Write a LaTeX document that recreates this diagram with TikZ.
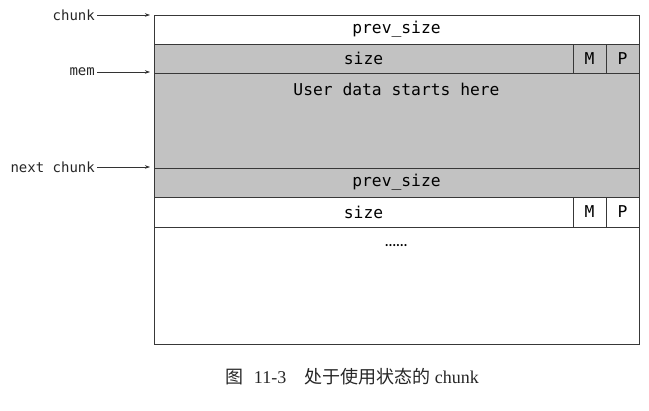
\documentclass[tikz,border=0pt]{standalone}
\usepackage{fontspec}
\setmainfont{Liberation Serif}
\setmonofont{DejaVu Sans Mono}
\newfontfamily\cjk{Noto Sans CJK SC}
\usetikzlibrary{arrows.meta}
\definecolor{shade}{gray}{0.76}
\definecolor{edge}{gray}{0.22}
\begin{document}
\begin{tikzpicture}[x=1pt,y=-1pt,
  cell/.style={draw=edge,line width=0.9pt,inner sep=0pt,outer sep=0pt,anchor=north west,
    font=\fontsize{16.3}{18}\selectfont\ttfamily},
  graycell/.style={cell,fill=shade},
  ptrlabel/.style={anchor=east,inner sep=2pt,font=\fontsize{14}{15}\selectfont\ttfamily,text=black!85},
  ptr/.style={draw=black!80,line width=0.6pt,-{Stealth[length=5pt,width=3.5pt]}}]
\useasboundingbox (0,0) rectangle (649,411);
% rows
\node[cell,minimum width=485pt,minimum height=29pt] (r1) at (154,15) {prev\_size};
\node[graycell,minimum width=419pt,minimum height=29pt] (r2) at (154,44) {size};
\node[graycell,minimum width=33pt,minimum height=29pt] (r2m) at (573,44) {M};
\node[graycell,minimum width=33pt,minimum height=29pt] (r2p) at (606,44) {P};
\node[graycell,minimum width=485pt,minimum height=95pt] (r3) at (154,73) {};
\node[anchor=center,font=\fontsize{16.3}{18}\selectfont\ttfamily] (ud) at (396.5,89) {User data starts here};
\node[graycell,minimum width=485pt,minimum height=29pt] (r4) at (154,168) {prev\_size};
\node[cell,fill=white,minimum width=419pt,minimum height=30pt] (r5) at (154,197) {size};
\node[cell,fill=white,minimum width=33pt,minimum height=30pt] (r5m) at (573,197) {M};
\node[cell,fill=white,minimum width=33pt,minimum height=30pt] (r5p) at (606,197) {P};
\node[cell,minimum width=485pt,minimum height=117pt] (r6) at (154,227) {};
\node[font=\fontsize{10}{11}\selectfont\cjk\bfseries] (dots) at (396,246) {……};
% pointers
\coordinate (t1) at (150,15);
\coordinate (t2) at (150,72);
\coordinate (t3) at (150,167);
\node[ptrlabel] (chunk) at (97,15) {chunk};
\node[ptrlabel] (mem) at (97,72) {mem};
\node[ptrlabel] (next) at (97,167) {next chunk};
\draw[ptr] (chunk.east) -- (t1);
\draw[ptr] (mem.east) -- (t2);
\draw[ptr] (next.east) -- (t3);
% caption
\node[font=\fontsize{18}{20}\selectfont,text=black!85] (cap) at (352,377)
  {{\cjk 图}\hspace{0.6em}11-3\hspace{1em}{\cjk 处于使用状态的}\hspace{0.25em}chunk};
\end{tikzpicture}
\end{document}
